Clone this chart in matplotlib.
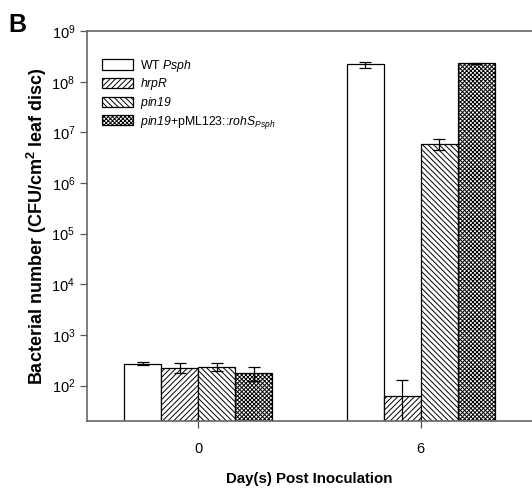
import matplotlib

matplotlib.use("Agg")

import matplotlib.pyplot as plt
import numpy as np

plt.rcParams["font.family"] = ["Liberation Sans", "DejaVu Sans"]
plt.rcParams["mathtext.fontset"] = "custom"
plt.rcParams["mathtext.rm"] = "Liberation Sans"
plt.rcParams["mathtext.sf"] = "Liberation Sans:italic"  # italique, chiffres compris
plt.rcParams["mathtext.bf"] = "Liberation Sans:bold"
plt.rcParams["hatch.linewidth"] = 0.7

# jours post inoculation
jours = [0, 6]
souches = [
    r"WT $\mathsf{Psph}$",
    r"$\mathsf{hrpR}$",
    r"$\mathsf{pin19}$",
    r"$\mathsf{pin19}$+pML123::$\mathsf{rohS}_{\mathsf{Psph}}$",
]
motifs = ["", "//////", "\\\\\\\\\\\\", "xxxxxxxx"]

# populations (CFU/cm2) et barres d'erreur
wt = [270, 2.2e8]
wt_err = [20, 3e7]
hrpr = [225, 63]
hrpr_err = [50, 68]
pin19 = [235, 6.0e6]
pin19_err = [45, 1.5e6]
comp = [180, 2.3e8]
comp_err = [55, 3e6]

valeurs = [wt, hrpr, pin19, comp]
erreurs = [wt_err, hrpr_err, pin19_err, comp_err]

fig = plt.figure(figsize=(5.32, 4.97), dpi=100)
ax = fig.add_axes([0.1635, 0.153, 0.8365, 0.7845])

x = np.array(jours, dtype=float)
largeur = 1.0
decalages = [-1.5, -0.5, 0.5, 1.5]
for val, err, nom, motif, d in zip(valeurs, erreurs, souches, motifs, decalages):
    ax.bar(x + d * largeur, val, width=largeur, color="white", edgecolor="black",
           linewidth=0.9, hatch=motif, label=nom, log=True)
    ax.errorbar(x + d * largeur, val, yerr=err, fmt="none", ecolor="black",
                elinewidth=0.9, capsize=4, capthick=0.9)

ax.set_yscale("log")
ax.set_ylim(20, 1e9)
ax.set_xlim(-3, 9)
ax.set_xticks(jours)
ax.set_yticks([1e2, 1e3, 1e4, 1e5, 1e6, 1e7, 1e8, 1e9])
ax.minorticks_off()
ax.tick_params(direction="out", length=5, width=0.9, labelsize=10.5, color="#555555")
ax.tick_params(axis="x", pad=10)

for cote in ["left", "bottom", "top"]:
    ax.spines[cote].set_color("#666666")
    ax.spines[cote].set_linewidth(1.2)
ax.spines["right"].set_visible(False)

ax.set_xlabel("Day(s) Post Inoculation", fontsize=10.8, fontweight="bold", labelpad=12)
ax.set_ylabel(r"Bacterial number (CFU/cm$^{\mathbf{2}}$ leaf disc)", fontsize=13,
              fontweight="bold", labelpad=2)

ax.legend(loc="upper left", bbox_to_anchor=(0.01, 0.96), frameon=False, fontsize=8.8,
          handlelength=2.5, handleheight=0.9, labelspacing=0.22, handletextpad=0.6)

fig.text(0.016, 0.935, "B", fontsize=18, fontweight="bold")

fig.savefig("out.png", dpi=100)
